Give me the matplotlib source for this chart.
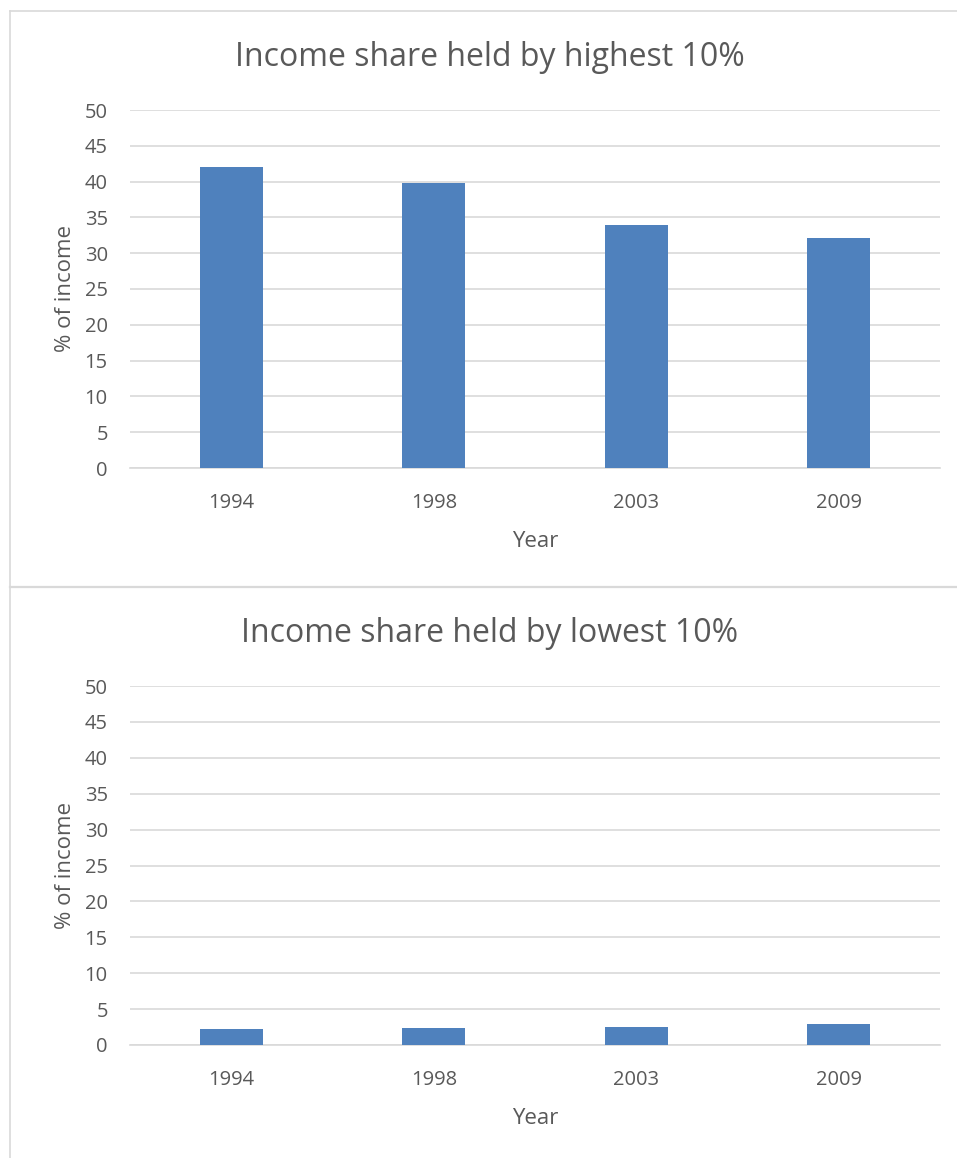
import matplotlib.pyplot as plt
from matplotlib.lines import Line2D

years = ["1994", "1998", "2003", "2009"]
highest_10 = [42.1, 39.8, 33.9, 32.1]
lowest_10 = [2.2, 2.4, 2.5, 2.9]
titles = ["Income share held by highest 10%", "Income share held by lowest 10%"]

BAR_COLOR = "#4f81bd"
TEXT_COLOR = "#595959"
GRID_COLOR = "#d9d9d9"
FONT = ["Open Sans", "DejaVu Sans"]

W, H = 957, 1158
fig = plt.figure(figsize=(W / 100, H / 100), dpi=100)


def px_box(x0, y0, x1, y1):
    # pixel box (top-left origin) -> figure fraction rect
    return [x0 / W, 1 - y1 / H, (x1 - x0) / W, (y1 - y0) / H]


def draw_chart(rect, values, title, title_y):
    ax = fig.add_axes(rect)
    x = range(len(years))
    ax.bar(x, values, width=0.31, color=BAR_COLOR, zorder=3)
    ax.set_xlim(-0.5, len(years) - 0.5)
    ax.set_ylim(0, 50)
    ax.set_yticks(range(0, 51, 5))
    ax.set_xticks(list(x))
    ax.set_xticklabels(years)
    ax.grid(axis="y", color=GRID_COLOR, linewidth=1.2, zorder=0)
    for s in ["top", "right", "left"]:
        ax.spines[s].set_visible(False)
    ax.spines["bottom"].set_color(GRID_COLOR)
    ax.spines["bottom"].set_linewidth(1.2)
    ax.tick_params(length=0, labelsize=14.5, colors=TEXT_COLOR)
    ax.tick_params(axis="x", pad=18)
    ax.tick_params(axis="y", pad=16)
    for lab in ax.get_xticklabels() + ax.get_yticklabels():
        lab.set_family(FONT)
    ax.set_xlabel("Year", fontsize=16, color=TEXT_COLOR, family=FONT, labelpad=13)
    ax.set_ylabel("% of income", fontsize=16, color=TEXT_COLOR, family=FONT, labelpad=6)
    fig.text(490 / W, 1 - title_y / H, title, ha="center", va="center",
             fontsize=23, color=TEXT_COLOR, family=FONT)
    return ax


draw_chart(px_box(130, 110, 940, 468), highest_10, titles[0], 57)
draw_chart(px_box(130, 686, 940, 1045), lowest_10, titles[1], 633)

# chart frames
border = "#d9d9d9"
fig.add_artist(Line2D([10 / W, 10 / W], [0, 1 - 11 / H], color=border, lw=1.2))
fig.add_artist(Line2D([10 / W, 1], [1 - 11 / H, 1 - 11 / H], color=border, lw=1.2))
fig.add_artist(Line2D([10 / W, 1], [1 - 587 / H, 1 - 587 / H], color=border, lw=1.6))

fig.savefig("out.png", dpi=100)
